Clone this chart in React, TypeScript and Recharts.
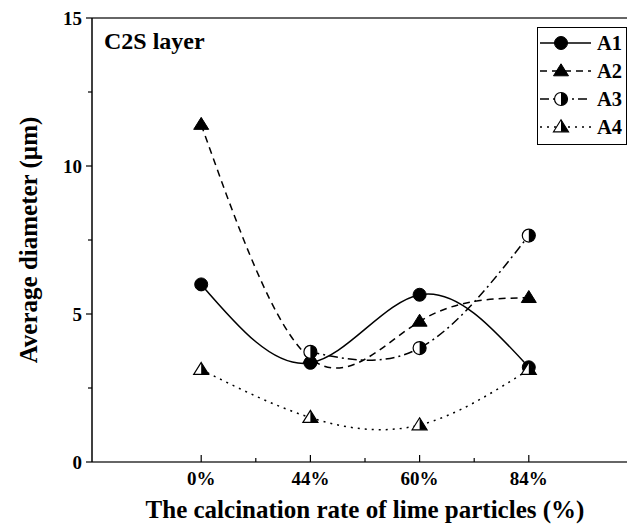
import { LineChart, Line, XAxis, YAxis, ReferenceLine, Legend } from 'recharts';

// calcination rate categories and where they sit on the numeric x axis
const categories = ['0%', '44%', '60%', '84%'];
const positions = [1, 2, 3, 4];

// average diameter (um) per sample
const a1 = [6.0, 3.35, 5.65, 3.2];
const a2 = [11.4, 3.5, 4.75, 5.55];
const a3 = [null, 3.72, 3.85, 7.65];
const a4 = [3.12, 1.5, 1.25, 3.12];

const xTicks = [1, 1.5, 2, 2.5, 3, 3.5, 4];
const yTicks = [0, 2.5, 5, 7.5, 10, 12.5, 15];

const data = positions.map((pos, i) => ({
  pos,
  A1: a1[i],
  A2: a2[i],
  A3: a3[i],
  A4: a4[i],
}));

const FONT = '"Liberation Serif", "Times New Roman", serif';

type Kind = 'circle' | 'triangle' | 'halfCircle' | 'halfTriangle';

const Marker = ({ cx, cy, kind }: { cx: number; cy: number; kind: Kind }) => {
  if (cx == null || cy == null || isNaN(cx) || isNaN(cy)) return null;
  const r = 6.5;
  if (kind === 'circle') return <circle cx={cx} cy={cy} r={r} fill="#000" stroke="#000" />;
  if (kind === 'halfCircle')
    return (
      <g>
        <circle cx={cx} cy={cy} r={r} fill="#fff" stroke="#000" strokeWidth={1.2} />
        <path d={`M${cx},${cy - r} A${r},${r} 0 0 1 ${cx},${cy + r} Z`} fill="#000" />
      </g>
    );
  const h = 12;
  const w = 7.5;
  const top = cy - h * 0.6;
  const bot = cy + h * 0.4;
  if (kind === 'triangle')
    return <polygon points={`${cx},${top} ${cx + w},${bot} ${cx - w},${bot}`} fill="#000" stroke="#000" />;
  return (
    <g>
      <polygon points={`${cx},${top} ${cx + w},${bot} ${cx - w},${bot}`} fill="#fff" stroke="#000" strokeWidth={1.2} />
      <polygon points={`${cx},${top} ${cx + w},${bot} ${cx},${bot}`} fill="#000" />
    </g>
  );
};

type SeriesKey = 'A1' | 'A2' | 'A3' | 'A4';
const series: { key: SeriesKey; dash?: string; kind: Kind }[] = [
  { key: 'A1', kind: 'circle' },
  { key: 'A2', dash: '7 5', kind: 'triangle' },
  { key: 'A3', dash: '9 4 2 4', kind: 'halfCircle' },
  { key: 'A4', dash: '2 5', kind: 'halfTriangle' },
];
// A2 goes under A1 so its hidden 44% marker stays covered
const drawOrder: SeriesKey[] = ['A2', 'A1', 'A3', 'A4'];

const XTick = (props: any) => {
  const { x, y, payload } = props;
  const v = payload.value;
  const major = Number.isInteger(v);
  return (
    <g>
      <line x1={x} x2={x} y1={y} y2={y - (major ? 7 : 4)} stroke="#000" strokeWidth={1.2} />
      {major && (
        <text x={x} y={y + 23} textAnchor="middle" fontFamily={FONT} fontWeight="bold" fontSize={19} fill="#000">
          {categories[positions.indexOf(v)]}
        </text>
      )}
    </g>
  );
};

const YTick = (props: any) => {
  const { x, y, payload } = props;
  const v = payload.value;
  const major = v % 5 === 0;
  return (
    <g>
      <line x1={x} x2={x - (major ? 6 : 4)} y1={y} y2={y} stroke="#000" strokeWidth={1.2} />
      {major && (
        <text x={x - 10} y={y + 6.5} textAnchor="end" fontFamily={FONT} fontWeight="bold" fontSize={19} fill="#000">
          {v}
        </text>
      )}
    </g>
  );
};

const LegendBox = () => (
  <div style={{ width: 90, height: 118, border: '1.5px solid #000', boxSizing: 'border-box', background: '#fff' }}>
    <svg width={88} height={115}>
      {series.map((s, i) => {
        const y = 15 + i * 28;
        return (
          <g key={s.key}>
            <line x1={2} x2={53} y1={y} y2={y} stroke="#000" strokeWidth={1.5} strokeDasharray={s.dash} />
            <Marker cx={23} cy={y} kind={s.kind} />
            <text x={59} y={y + 7} fontFamily={FONT} fontWeight="bold" fontSize={20.5} fill="#000">
              {s.key}
            </text>
          </g>
        );
      })}
    </svg>
  </div>
);

export default function App() {
  return (
    <div style={{ position: 'fixed', left: 0, top: 0, width: 627, height: 527, overflow: 'hidden', background: '#fff' }}>
      <LineChart width={660} height={527} data={data} margin={{ top: 18, right: 22, left: 0, bottom: 0 }}>
        <XAxis
          dataKey="pos"
          type="number"
          domain={[0, 5]}
          ticks={xTicks}
          interval={0}
          height={65}
          tickLine={false}
          tickSize={0}
          tickMargin={0}
          tick={<XTick />}
          axisLine={{ stroke: '#666', strokeWidth: 2 }}
          label={{
            value: 'The calcination rate of lime particles (%)',
            position: 'center',
            dy: 15,
            style: { fontFamily: FONT, fontWeight: 'bold', fontSize: 25, fill: '#000' },
          }}
        />
        <YAxis
          type="number"
          domain={[0, 15]}
          ticks={yTicks}
          interval={0}
          width={92}
          tickLine={false}
          tickSize={0}
          tickMargin={0}
          tick={<YTick />}
          axisLine={{ stroke: '#000', strokeWidth: 1.5 }}
          label={{
            value: 'Average diameter (µm)',
            angle: -90,
            position: 'center',
            dx: -18,
            style: { fontFamily: FONT, fontWeight: 'bold', fontSize: 25, fill: '#000' },
          }}
        />
        <ReferenceLine y={15} stroke="#666" strokeWidth={2} />
        {drawOrder.map((k) => {
          const s = series.find((it) => it.key === k)!;
          return (
            <Line
              key={s.key}
              dataKey={s.key}
              type="natural"
              stroke="#000"
              strokeWidth={1.5}
              strokeDasharray={s.dash}
              isAnimationActive={false}
              dot={(p: any) => <Marker key={`${s.key}-${p.index}`} cx={p.cx} cy={p.cy} kind={s.kind} />}
              activeDot={false}
            />
          );
        })}
        <Legend
          layout="horizontal"
          verticalAlign="middle"
          align="center"
          content={<LegendBox />}
          wrapperStyle={{ position: 'absolute', left: 537, top: 27, width: 90, height: 118, margin: 0 }}
        />
      </LineChart>
      <div
        style={{
          position: 'absolute',
          left: 104,
          top: 29,
          fontFamily: FONT,
          fontWeight: 'bold',
          fontSize: 24,
          color: '#000',
          lineHeight: '25px',
        }}
      >
        C2S layer
      </div>
    </div>
  );
}
